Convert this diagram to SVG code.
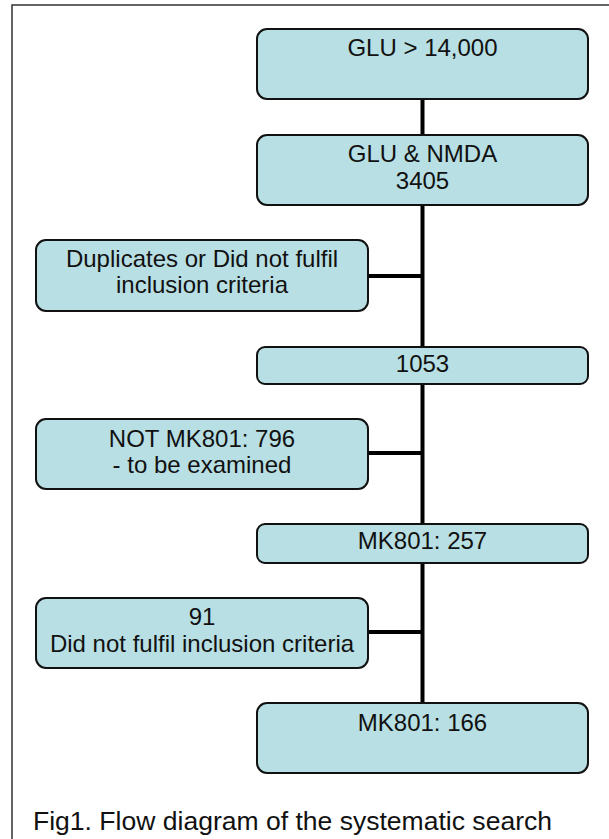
<svg xmlns="http://www.w3.org/2000/svg" width="609" height="839" viewBox="0 0 609 839">
  <style>
    .box { fill: #b8dfe3; stroke: #111; stroke-width: 2; }
    .lbl { font-family: "Liberation Sans", Arial, sans-serif; font-size: 24px; fill: #111; text-anchor: middle; }
    .link { stroke: #000; stroke-width: 4; fill: none; }
    .frame { stroke: #333; stroke-width: 1.5; fill: none; }
    .caption { font-family: "Liberation Sans", Arial, sans-serif; font-size: 26px; fill: #111; }
  </style>
  <rect x="0" y="0" width="609" height="839" fill="#fff"/>
  <!-- outer frame (open to the right and bottom) -->
  <path class="frame" d="M12,839 V5 H609"/>

  <!-- connectors -->
  <g id="connectors">
    <path class="link" d="M422.5,99 V703"/>
    <path class="link" d="M368,276 H422.5"/>
    <path class="link" d="M368,453 H422.5"/>
    <path class="link" d="M368,632 H422.5"/>
  </g>

  <g id="n-glu">
    <rect class="box" x="257" y="29" width="331" height="70" rx="10"/>
    <text class="lbl" x="422.5" y="56">GLU &gt; 14,000</text>
  </g>
  <g id="n-glu-nmda">
    <rect class="box" x="257" y="135" width="331" height="70" rx="10"/>
    <text class="lbl" x="422.5" y="162">GLU &amp; NMDA</text>
    <text class="lbl" x="422.5" y="189">3405</text>
  </g>
  <g id="n-duplicates">
    <rect class="box" x="36" y="240" width="332" height="71" rx="10"/>
    <text class="lbl" x="202" y="267">Duplicates or Did not fulfil</text>
    <text class="lbl" x="202" y="293">inclusion criteria</text>
  </g>
  <g id="n-1053">
    <rect class="box" x="257" y="347" width="331" height="37" rx="8"/>
    <text class="lbl" x="422.5" y="372">1053</text>
  </g>
  <g id="n-not-mk801">
    <rect class="box" x="36" y="419" width="332" height="70" rx="10"/>
    <text class="lbl" x="202" y="447">NOT MK801: 796</text>
    <text class="lbl" x="202" y="473">- to be examined</text>
  </g>
  <g id="n-mk801-257">
    <rect class="box" x="257" y="524" width="331" height="39" rx="8"/>
    <text class="lbl" x="422.5" y="549">MK801: 257</text>
  </g>
  <g id="n-91">
    <rect class="box" x="36" y="598" width="332" height="70" rx="10"/>
    <text class="lbl" x="202" y="625">91</text>
    <text class="lbl" x="202" y="652">Did not fulfil inclusion criteria</text>
  </g>
  <g id="n-mk801-166">
    <rect class="box" x="257" y="703" width="331" height="70" rx="10"/>
    <text class="lbl" x="422.5" y="731">MK801: 166</text>
  </g>

  <text class="caption" x="33" y="830" textLength="519" lengthAdjust="spacingAndGlyphs">Fig1. Flow diagram of the systematic search</text>
</svg>
